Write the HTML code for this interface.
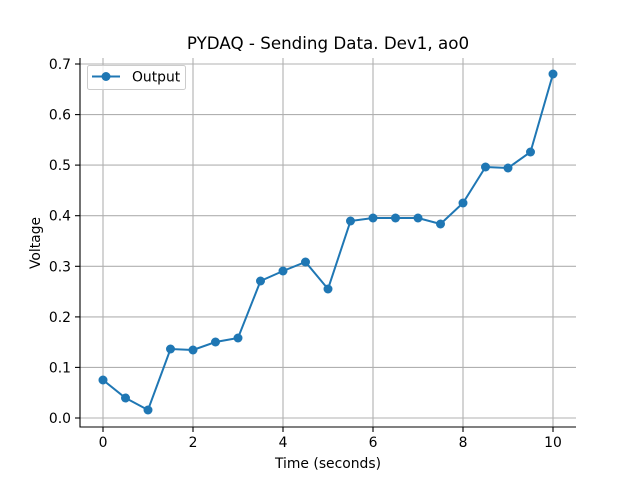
<!DOCTYPE html>
<html><head><meta charset="utf-8"><style>body{margin:0;background:#fff}svg{display:block}text{font-family:"DejaVu Sans","Liberation Sans",sans-serif;fill:#000}</style></head><body>
<svg width="640" height="480" viewBox="0 0 640 480">
<rect width="640" height="480" fill="#fff"/>
<g stroke="#b0b0b0" stroke-width="1.1">
<line x1="103" y1="58" x2="103" y2="427"/><line x1="193" y1="58" x2="193" y2="427"/><line x1="283" y1="58" x2="283" y2="427"/><line x1="373" y1="58" x2="373" y2="427"/><line x1="463" y1="58" x2="463" y2="427"/><line x1="553" y1="58" x2="553" y2="427"/>
<line x1="80" y1="418" x2="576" y2="418"/><line x1="80" y1="367.4" x2="576" y2="367.4"/><line x1="80" y1="316.9" x2="576" y2="316.9"/><line x1="80" y1="266.3" x2="576" y2="266.3"/><line x1="80" y1="215.7" x2="576" y2="215.7"/><line x1="80" y1="165.1" x2="576" y2="165.1"/><line x1="80" y1="114.6" x2="576" y2="114.6"/><line x1="80" y1="64" x2="576" y2="64"/>
</g>
<g stroke="#000" stroke-width="1.1">
<line x1="80" y1="58" x2="80" y2="427.5"/><line x1="79.5" y1="427" x2="576" y2="427"/>
<line x1="103" y1="427" x2="103" y2="432"/><line x1="193" y1="427" x2="193" y2="432"/><line x1="283" y1="427" x2="283" y2="432"/><line x1="373" y1="427" x2="373" y2="432"/><line x1="463" y1="427" x2="463" y2="432"/><line x1="553" y1="427" x2="553" y2="432"/>
<line x1="75" y1="418" x2="80" y2="418"/><line x1="75" y1="367.4" x2="80" y2="367.4"/><line x1="75" y1="316.9" x2="80" y2="316.9"/><line x1="75" y1="266.3" x2="80" y2="266.3"/><line x1="75" y1="215.7" x2="80" y2="215.7"/><line x1="75" y1="165.1" x2="80" y2="165.1"/><line x1="75" y1="114.6" x2="80" y2="114.6"/><line x1="75" y1="64" x2="80" y2="64"/>
</g>
<g font-size="13.9" text-anchor="middle">
<text x="103" y="447">0</text><text x="193" y="447">2</text><text x="283" y="447">4</text><text x="373" y="447">6</text><text x="463" y="447">8</text><text x="553" y="447">10</text>
</g>
<g font-size="13.9" text-anchor="end">
<text x="71" y="423">0.0</text><text x="71" y="372.4">0.1</text><text x="71" y="321.9">0.2</text><text x="71" y="271.3">0.3</text><text x="71" y="220.7">0.4</text><text x="71" y="170.1">0.5</text><text x="71" y="119.6">0.6</text><text x="71" y="69">0.7</text>
</g>
<text x="328" y="468" font-size="13.9" text-anchor="middle">Time (seconds)</text>
<text x="0" y="0" font-size="13.9" text-anchor="middle" transform="translate(40,243) rotate(-90)">Voltage</text>
<text x="328" y="49" font-size="16.7" text-anchor="middle">PYDAQ - Sending Data. Dev1, ao0</text>
<polyline fill="none" stroke="#1f77b4" stroke-width="2" points="103,380 125.5,398 148,410 170.5,349 193,350 215.5,342 238,338 260.5,281 283,271 305.5,262 328,289 350.5,221 373,218 395.5,218 418,218 440.5,224 463,203 485.5,167 508,168 530.5,152 553,74"/>
<g fill="#1f77b4">
<circle cx="103" cy="380" r="4.5"/><circle cx="125.5" cy="398" r="4.5"/><circle cx="148" cy="410" r="4.5"/><circle cx="170.5" cy="349" r="4.5"/><circle cx="193" cy="350" r="4.5"/><circle cx="215.5" cy="342" r="4.5"/><circle cx="238" cy="338" r="4.5"/><circle cx="260.5" cy="281" r="4.5"/><circle cx="283" cy="271" r="4.5"/><circle cx="305.5" cy="262" r="4.5"/><circle cx="328" cy="289" r="4.5"/><circle cx="350.5" cy="221" r="4.5"/><circle cx="373" cy="218" r="4.5"/><circle cx="395.5" cy="218" r="4.5"/><circle cx="418" cy="218" r="4.5"/><circle cx="440.5" cy="224" r="4.5"/><circle cx="463" cy="203" r="4.5"/><circle cx="485.5" cy="167" r="4.5"/><circle cx="508" cy="168" r="4.5"/><circle cx="530.5" cy="152" r="4.5"/><circle cx="553" cy="74" r="4.5"/>
</g>
<rect x="87.5" y="65.5" width="98" height="24" rx="2" fill="#fff" fill-opacity="0.8" stroke="#ccc" stroke-width="1"/>
<line x1="92" y1="76.5" x2="120" y2="76.5" stroke="#1f77b4" stroke-width="2"/>
<circle cx="106" cy="76.5" r="4.5" fill="#1f77b4"/>
<text x="132" y="81.5" font-size="13.9">Output</text>
</svg>
</body></html>
